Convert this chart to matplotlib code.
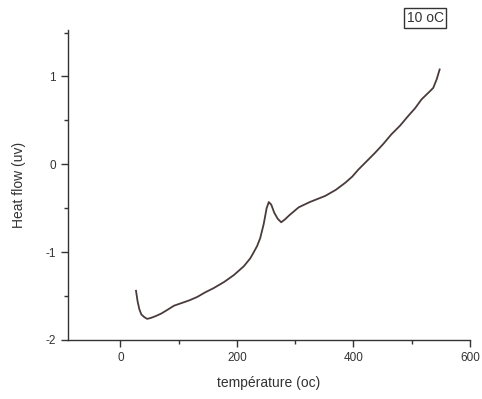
import matplotlib
matplotlib.use("Agg")
import matplotlib.pyplot as plt
from matplotlib.ticker import MultipleLocator

plt.rcParams['font.family'] = ['Liberation Sans', 'DejaVu Sans']
plt.rcParams['axes.unicode_minus'] = False

temperature = [26.8, 29.5, 32.5, 36, 41, 46, 52, 60, 70, 80, 92, 105, 118, 132, 145,
               160, 178, 195, 212, 223, 229, 234.7, 240, 246, 251, 254.7, 259, 264,
               270, 276, 282, 290, 306, 325, 351.6, 370, 386, 398, 408.5, 422, 437,
               451, 465, 480, 494, 506, 517, 531, 537, 543, 548]
heat_flow = [-1.44, -1.56, -1.65, -1.71, -1.74, -1.76, -1.75, -1.73, -1.70, -1.66, -1.61,
             -1.58, -1.55, -1.51, -1.46, -1.41, -1.34, -1.26, -1.16, -1.07, -1.00,
             -0.93, -0.84, -0.68, -0.50, -0.43, -0.46, -0.55, -0.62, -0.66, -0.63,
             -0.58, -0.49, -0.43, -0.36, -0.29, -0.21, -0.14, -0.06, 0.03, 0.13,
             0.23, 0.34, 0.44, 0.55, 0.64, 0.74, 0.83, 0.87, 0.97, 1.08]
label_text = "10 oC"

fig = plt.figure(figsize=(4.82, 3.99), dpi=100)
ax = fig.add_axes([0.141, 0.148, 0.834, 0.777])
ax.plot(temperature, heat_flow, color='#4a3b3b', lw=1.3)

ax.set_xlim(-90, 600)
ax.set_ylim(-2, 1.53)
ax.xaxis.set_major_locator(MultipleLocator(200))
ax.xaxis.set_minor_locator(MultipleLocator(100))
ax.yaxis.set_major_locator(MultipleLocator(1))
ax.yaxis.set_minor_locator(MultipleLocator(0.5))
for s in ['top', 'right']:
    ax.spines[s].set_visible(False)
for s in ['left', 'bottom']:
    ax.spines[s].set_color('#333333')
    ax.spines[s].set_linewidth(1.0)
ax.tick_params(which='major', direction='out', length=5, width=1, colors='#333333',
               labelsize=8.5, labelcolor='#333333')
ax.tick_params(which='minor', direction='out', length=3, width=1, colors='#333333')
ax.set_xlabel('température (oc)', fontsize=10, color='#333333', labelpad=9)
ax.set_ylabel('Heat flow (uv)', fontsize=10, color='#333333', labelpad=14)

fig.text(0.882, 0.955, label_text, fontsize=10, color='#333333', ha='center', va='center',
         bbox=dict(boxstyle='square,pad=0.2', fc='white', ec='#333333', lw=1))

fig.savefig('out.png', dpi=100)
